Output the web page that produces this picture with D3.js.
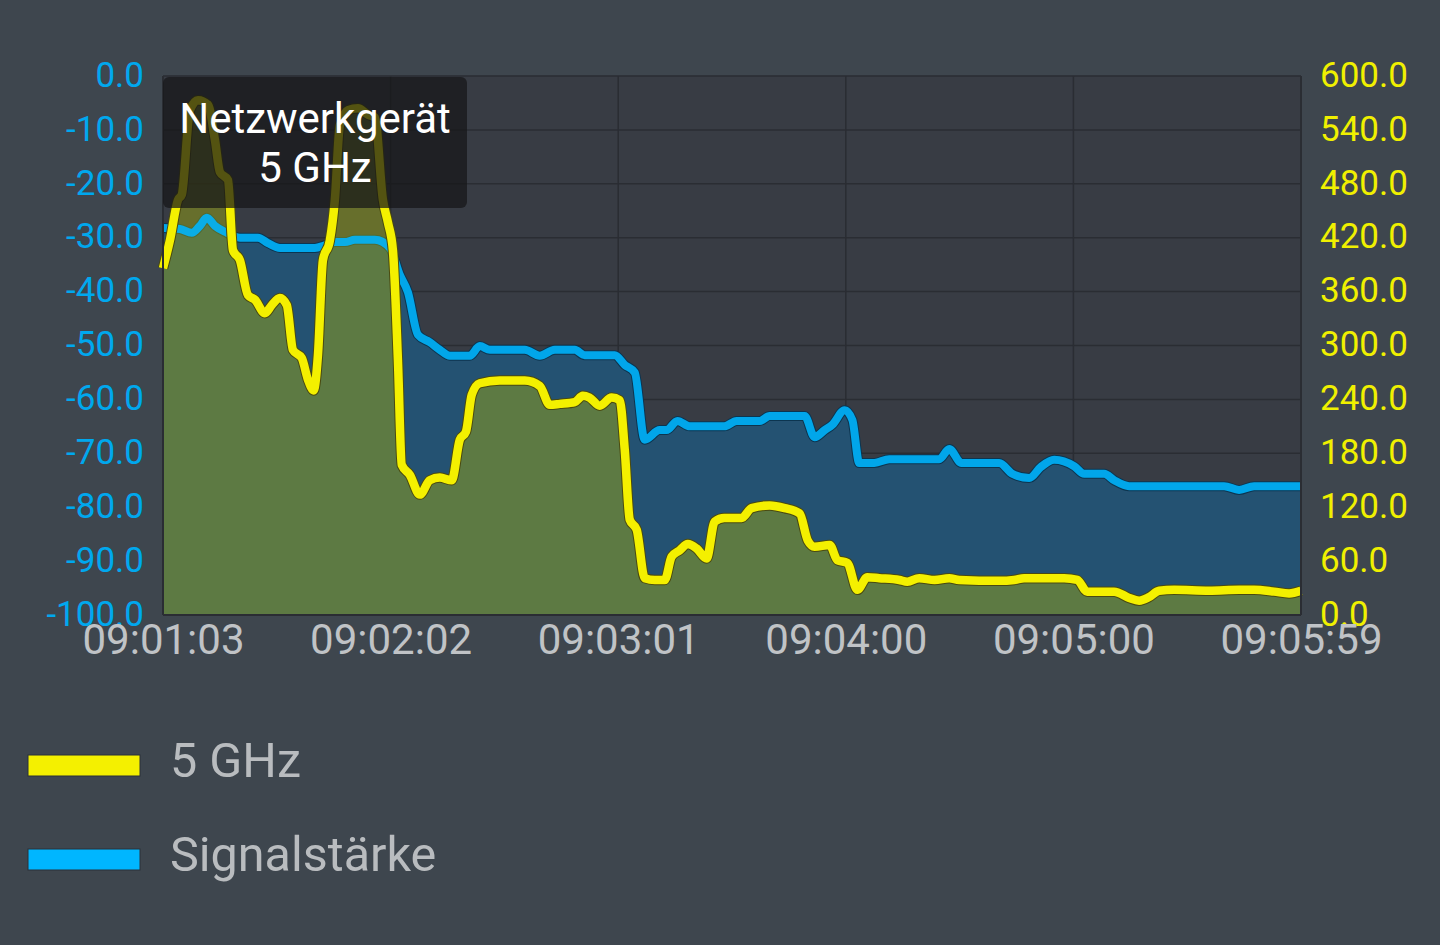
<!DOCTYPE html>
<html><head><meta charset="utf-8">
<script src="https://cdn.jsdelivr.net/npm/d3@7"></script>
<style>
html,body{margin:0;padding:0;background:#3e464e;}
svg{display:block;font-family:Roboto,"Noto Sans",sans-serif;}
</style></head>
<body>
<svg id="c" width="1440" height="945"></svg>
<script>
// seconds since 09:01:03
const signalTimes = [0,4.4,7.5,9.6,11.4,13.5,16.1,20,24.7,27.3,30.4,39.5,42.1,44.7,47.3,49.9,55.1,59,61.6,63.7,66.3,69.4,72,74.6,79.8,82.4,85,94.1,98,101.9,107.1,109.7,117.5,120.1,122.7,125.3,129.2,131,133.8,137,146,149.2,155.2,157.8,166.9,169.5,172.1,174.1,177.3,179.3,181.1,185,188.9,201.9,204.5,207.7,217.5,220.9,225.3,228.4,231.8,237,239.6,244.8,247.4,251.3,276,279.9,283.8,296];
const signalValues = [-28.2,-28.4,-29.1,-27.8,-26.3,-27.8,-28.9,-30,-30,-31,-31.9,-31.9,-31.4,-30.8,-30.8,-30.4,-30.4,-31.9,-36.9,-40.1,-48,-49.4,-50.8,-51.9,-51.9,-50.1,-50.8,-50.8,-51.9,-50.8,-50.8,-51.8,-51.8,-53.6,-55,-67.5,-65.7,-65.7,-64,-65,-65,-64,-64,-63.1,-63.1,-67,-65.7,-64.7,-62,-63.8,-71.8,-71.8,-71.1,-71.1,-69.2,-71.8,-71.8,-73.8,-74.6,-72.5,-71.2,-72.4,-73.8,-73.8,-75,-76.1,-76.1,-76.8,-76.1,-76.1];
const ghzTimes = [0,1.8,3.9,4.9,7,9.1,11.7,13.5,14.8,16.9,18.2,20,22.1,23.9,26.5,28.3,30.4,32.2,33.8,36.1,37.7,39.2,40.3,41.6,43.4,44.7,46,48.1,50.7,53.3,55.1,57.2,58.5,59.8,61.1,62.1,64.2,66.8,69.4,72,75.1,77.2,78.8,80.3,82.4,87.6,94.1,98,100.6,103.2,107.1,109.2,110.9,113.6,116.7,118.8,120.1,121.4,123.2,125.3,127.9,130.5,132.3,134.4,136.5,138.8,141.4,143.5,146,150.5,153.1,157.8,161.7,165.6,167.7,169.5,173.4,175.4,178,180.6,183.2,186.3,191.5,193.6,196.7,200.7,204.5,207.1,217.5,221.4,224,234.4,237.8,240.4,247.4,251.3,253.9,256.5,259.1,263,272.1,279.9,283.8,289,292.9,296];
const ghzValues = [386,417,462,468,562,573,568,529,493,484,406,395,356,351,336,345,353,345,295,286,262,250,289,395,417,462,545,562,564,557,554,462,437,406,284,167,156,134,150,153,150,195,204,245,258,261,261,255,234,235,237,244,242,233,242,239,184,106,95,41,39,39,65,72,79,74,63,104,108,108,119,122,119,113,83,76,78,61,58,28,42,41,39,37,41,39,41,39,38,39,41,41,39,26,26,19,16,20,27,28,27,28,28,26,24,27];
const timeTickLabels = ["09:01:03","09:02:02","09:03:01","09:04:00","09:05:00","09:05:59"];
const leftTicks = [0,-10,-20,-30,-40,-50,-60,-70,-80,-90,-100];
const rightTicks = [0,60,120,180,240,300,360,420,480,540,600];
const legendLabels = ["5 GHz","Signalstärke"];
const tooltipLines = ["Netzwerkgerät","5 GHz"];

const svg = d3.select("#c");
const L=163, R=1301, T=76, B=615;
const x = d3.scaleLinear().domain([0,296]).range([L,R]);
const yL = d3.scaleLinear().domain([-100,0]).range([B,T]);
const yR = d3.scaleLinear().domain([0,600]).range([B,T]);
const tickTimes = d3.range(6).map(i=>i*296/5);
const fmt = d => d.toFixed(1); // plain hyphen minus

svg.append("rect").attr("x",L).attr("y",T).attr("width",R-L).attr("height",B-T).attr("fill","#383c44");

// grid
svg.append("g").selectAll("line").data(leftTicks).join("line")
  .attr("x1",L).attr("x2",R).attr("y1",d=>yL(d)).attr("y2",d=>yL(d))
  .attr("stroke","#2a2d33").attr("stroke-width",1.5);
svg.append("g").selectAll("line").data(tickTimes).join("line")
  .attr("x1",d=>x(d)).attr("x2",d=>x(d)).attr("y1",T).attr("y2",B)
  .attr("stroke","#2a2d33").attr("stroke-width",1.5);

const sig = signalTimes.map((t,i)=>({t,v:signalValues[i]}));
const ghz = ghzTimes.map((t,i)=>({t,v:ghzValues[i]}));
const curve = d3.curveMonotoneX;
const sigLine = d3.line().x(d=>x(d.t)).y(d=>yL(d.v)).curve(curve);
const ghzLine = d3.line().x(d=>x(d.t)).y(d=>yR(d.v)).curve(curve);

svg.append("path").datum(sig)
  .attr("d", d3.area().x(d=>x(d.t)).y0(B).y1(d=>yL(d.v)).curve(curve))
  .attr("fill","#245272");
svg.append("path").datum(sig).attr("d", sigLine)
  .attr("fill","none").attr("stroke","#0c3550").attr("stroke-width",10).attr("stroke-linejoin","round");

svg.append("path").datum(ghz)
  .attr("d", d3.area().x(d=>x(d.t)).y0(B).y1(d=>yR(d.v)).curve(curve))
  .attr("fill","rgba(150,162,20,0.5)");

svg.append("path").datum(sig).attr("d", sigLine)
  .attr("fill","none").attr("stroke","#00b6ff").attr("stroke-opacity",0.88).attr("stroke-width",8).attr("stroke-linejoin","round");

svg.append("path").datum(ghz).attr("d", ghzLine)
  .attr("fill","none").attr("stroke","#4a4a10").attr("stroke-width",10.5).attr("stroke-linejoin","round");
svg.append("path").datum(ghz).attr("d", ghzLine)
  .attr("fill","none").attr("stroke","#f4f000").attr("stroke-width",8.5).attr("stroke-linejoin","round");

// borders
svg.append("line").attr("x1",L).attr("x2",L).attr("y1",T).attr("y2",B).attr("stroke","#2a2d33").attr("stroke-width",2);
svg.append("line").attr("x1",R).attr("x2",R).attr("y1",T).attr("y2",B).attr("stroke","#2a2d33").attr("stroke-width",2);
svg.append("line").attr("x1",L).attr("x2",R).attr("y1",B).attr("y2",B).attr("stroke","#2a2d33").attr("stroke-width",2);

// axes
const gl = svg.append("g").attr("transform",`translate(${L-19},-1)`)
  .call(d3.axisLeft(yL).tickValues(leftTicks).tickSize(0).tickPadding(0).tickFormat(fmt));
gl.select(".domain").remove();
gl.selectAll("text").attr("fill","#00a8ee").style("font-size","35px").style("font-family","Roboto");

const gr = svg.append("g").attr("transform",`translate(${R+19},-1)`)
  .call(d3.axisRight(yR).tickValues(rightTicks).tickSize(0).tickPadding(0).tickFormat(fmt));
gr.select(".domain").remove();
gr.selectAll("text").attr("fill","#f0f000").style("font-size","35px").style("font-family","Roboto");

const gb = svg.append("g").attr("transform",`translate(0,${B})`)
  .call(d3.axisBottom(x).tickValues(tickTimes).tickSize(0).tickPadding(0).tickFormat((d,i)=>timeTickLabels[i]));
gb.select(".domain").remove();
gb.selectAll("text").attr("fill","#c0c3c6").attr("dy",null).attr("y",39).style("font-size","42px").style("font-family","Roboto");

// tooltip
svg.append("rect").attr("x",163).attr("y",77).attr("width",304).attr("height",131).attr("rx",6)
  .attr("fill","rgba(22,22,24,0.72)");
svg.append("g").selectAll("text").data(tooltipLines).join("text")
  .attr("x",315).attr("y",(d,i)=>133+i*49).attr("text-anchor","middle")
  .attr("fill","#ffffff").style("font-size","42px").text(d=>d);

// legend
const legColors = ["#f4f000","#00b6ff"];
const lg = svg.append("g").selectAll("g").data(legendLabels).join("g")
  .attr("transform",(d,i)=>`translate(0,${i*94})`);
lg.append("rect").attr("x",28).attr("y",755).attr("width",112).attr("height",21)
  .attr("fill",(d,i)=>legColors[i]).attr("stroke","#2a3038").attr("stroke-width",1);
lg.append("text").attr("x",170).attr("y",777).attr("fill","#b9bcbf")
  .style("font-size","48.5px").text(d=>d);
</script>
</body></html>
